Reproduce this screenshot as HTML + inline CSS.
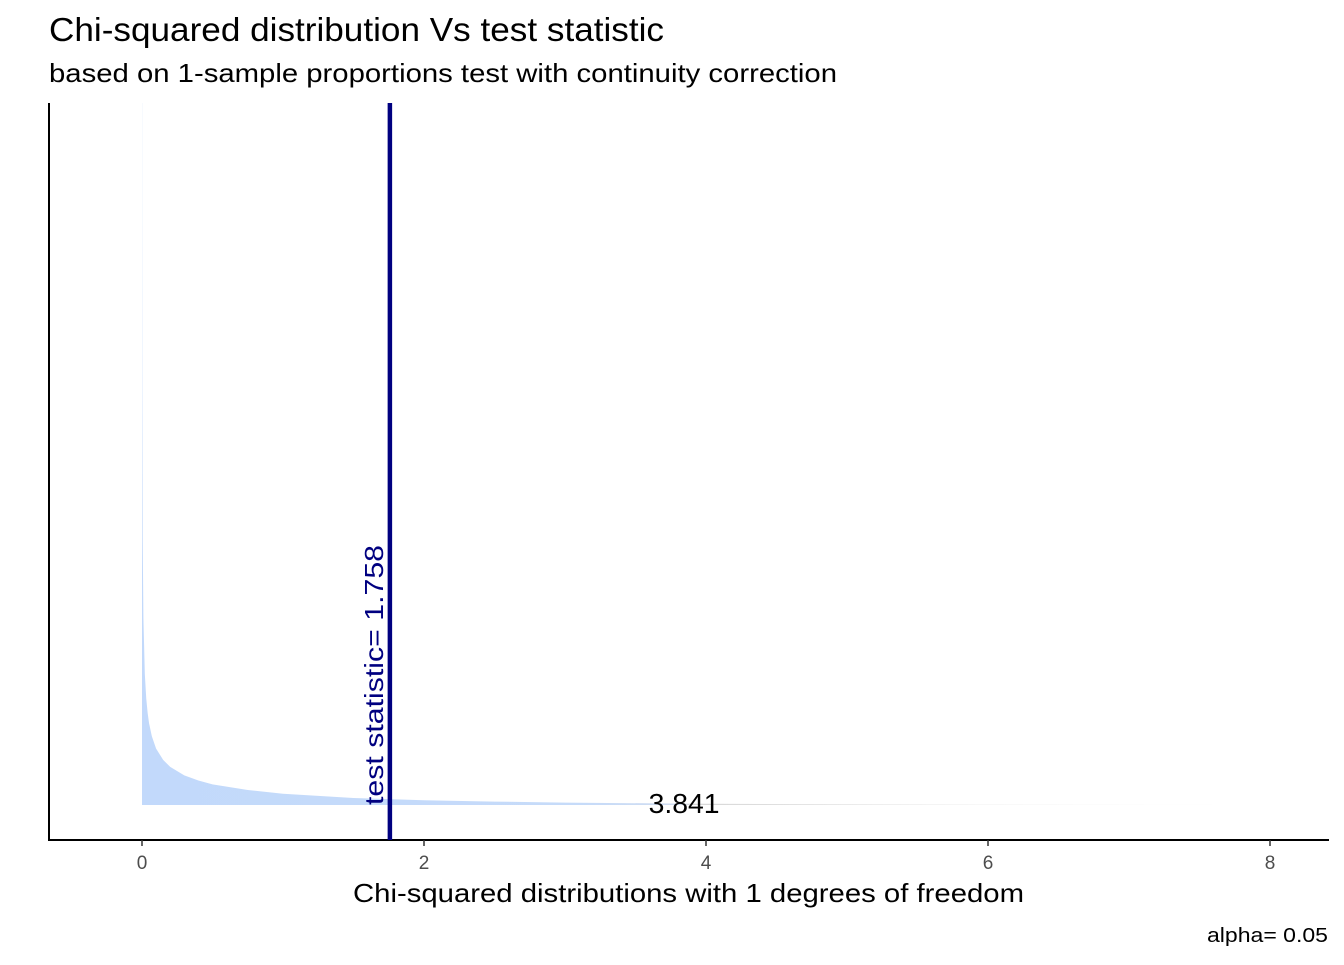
<!DOCTYPE html>
<html><head><meta charset="utf-8"><style>
body{margin:0;background:#fff;font-family:"Liberation Sans",Arial,sans-serif}
</style></head><body>
<svg width="1344" height="960" xmlns="http://www.w3.org/2000/svg" style="font-family:'Liberation Sans',Arial,sans-serif">
<defs>
<linearGradient id="fade" gradientUnits="userSpaceOnUse" x1="142" y1="0" x2="1240" y2="0">
<stop offset="0" stop-color="#c2d9fb"/>
<stop offset="0.4" stop-color="#c6dbf9"/>
<stop offset="0.49" stop-color="#d0dcf0"/>
<stop offset="0.5" stop-color="#d8d8d8"/>
<stop offset="1" stop-color="#ffffff"/>
</linearGradient>
<clipPath id="plotclip"><rect x="49" y="103" width="1280" height="737"/></clipPath>
</defs>
<text x="49" y="41" font-size="33" fill="#000" textLength="615" lengthAdjust="spacingAndGlyphs">Chi-squared distribution Vs test statistic</text>
<text x="49" y="82" font-size="26" fill="#000" textLength="788" lengthAdjust="spacingAndGlyphs">based on 1-sample proportions test with continuity correction</text>
<g id="plot"></g>
<text x="353" y="902" font-size="26" fill="#000" textLength="671" lengthAdjust="spacingAndGlyphs">Chi-squared distributions with 1 degrees of freedom</text>
<text x="1207" y="942" font-size="20" fill="#000" textLength="121" lengthAdjust="spacingAndGlyphs">alpha= 0.05</text>
</svg>
<script>
const densX=[0.0001,0.001,0.002,0.005,0.01,0.02,0.03,0.04,0.05,0.07,0.1,0.15,0.2,0.3,0.4,0.5,0.75,1,1.5,2,2.5,3,3.841,4,5,6,7,7.6];
const densY=[39.9,12.61,8.92,5.63,3.97,2.79,2.27,1.96,1.74,1.46,1.20,0.96,0.81,0.63,0.52,0.44,0.32,0.24,0.15,0.10,0.073,0.051,0.030,0.027,0.015,0.0081,0.0045,0.0026];
const xTicks=[0,2,4,6,8];
const testStat=[1.758];
const critVal=[3.841];
const NS="http://www.w3.org/2000/svg";
const sx=v=>142+v*141;
const sy=v=>805-v*47;
const g=document.getElementById('plot');
function mk(t,a){const e=document.createElementNS(NS,t);for(const k in a)e.setAttribute(k,a[k]);g.appendChild(e);return e;}
let d=`M${sx(0)},${sy(0)} L${sx(0)},${sy(densY[0])}`;
densX.forEach((x,i)=>{d+=` L${sx(x)},${sy(densY[i])}`;});
d+=` L${sx(densX[densX.length-1])},${sy(0)} Z`;
const area=mk('path',{d:d,fill:'url(#fade)','clip-path':'url(#plotclip)'});


const ax=mk('path',{d:'M49,103 L49,840 L1329,840',fill:'none',stroke:'#000','stroke-width':2});


xTicks.forEach(t=>{
 const tk=mk('line',{x1:sx(t),x2:sx(t),y1:840,y2:846,stroke:'#333','stroke-width':1.5});
 
 
 const lb=mk('text',{x:sx(t),y:869,'font-size':19,'text-anchor':'middle',fill:'#4d4d4d'});
 lb.textContent=t;
 
 
});
const ts=testStat[0];
const vl=mk('line',{x1:sx(ts),x2:sx(ts),y1:103,y2:840,stroke:'#000080','stroke-width':4.5});


const vt=mk('text',{x:0,y:0,'font-size':26,fill:'#000080',textLength:260,lengthAdjust:'spacingAndGlyphs',transform:`translate(${sx(ts)-7},805) rotate(-90)`});
vt.textContent='test statistic= '+ts.toFixed(3);


const cv=mk('text',{x:sx(critVal[0])-35,y:813,'font-size':28,textLength:71,lengthAdjust:'spacingAndGlyphs',fill:'#000'});
cv.textContent=critVal[0].toFixed(3);


</script>
</body></html>
